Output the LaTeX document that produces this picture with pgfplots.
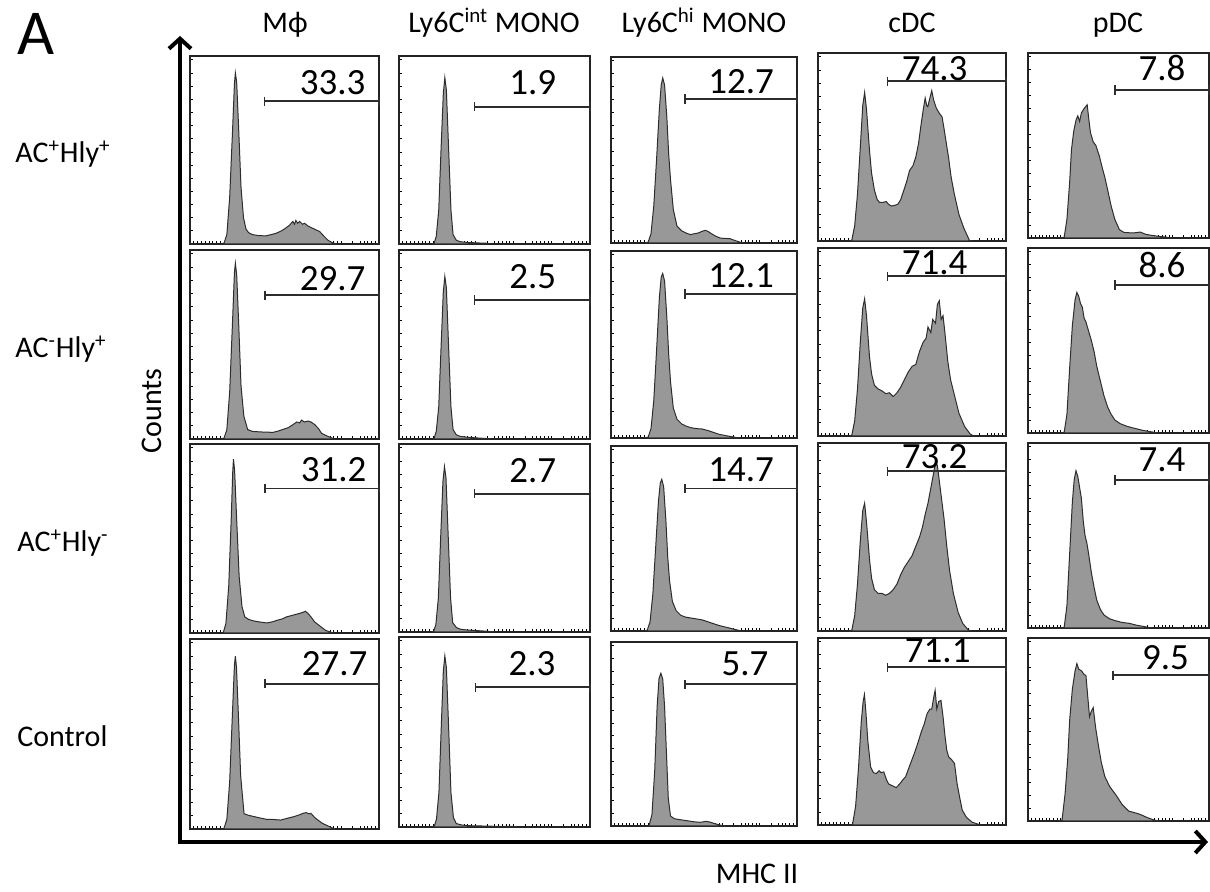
\documentclass[border=0pt]{standalone}
\usepackage{pgfplots}
\pgfplotsset{compat=1.18}
\usepackage{fontspec}
\setmainfont{Carlito}
\usetikzlibrary{arrows.meta}
\definecolor{histfill}{RGB}{152,152,152}
\definecolor{histline}{RGB}{45,45,45}
\definecolor{boxcol}{RGB}{35,35,35}
\definecolor{gatecol}{RGB}{45,45,45}
\pgfplotsset{
  panel/.style={scale only axis, anchor=south west,
    xmin=0, xmax=100, ymin=0, ymax=100, clip=false,
    axis line style={line width=0.75pt, boxcol},
    xtick={2,4,6,8,10,12,14,16,18,20,22,24,26,28,30,32,34,36,38,40,46,50,52,54,56,58,60,66,70,72,74,76,78,80,86,90,92,94,96,98},
    ytick={7,14,21,28,35,42,49,56,63,70,77,84,91,98},
    xticklabels={}, yticklabels={},
    xtick pos=left, ytick pos=left, tick align=inside,
    major tick length=1.3pt, tick style={line width=0.35pt, black}},
  hist/.style={fill=histfill, draw=histline, line width=0.5pt},
  gate/.style={draw=gatecol, line width=0.9pt, mark=|, mark size=2.3pt, mark options={line width=0.9pt, solid}},
}
\tikzset{numlab/.style={font=\fontsize{18.5}{20}\selectfont, inner sep=0pt}}
\newcommand{\panel}[9]{%
\begin{axis}[panel, at={(#1pt,#2pt)}, width=#3pt, height=#4pt]
\addplot[hist] coordinates {#5} \closedcycle;
\addplot[gate] coordinates {(#6,#7) (100,#7)};
\node[numlab] at (axis cs:#8) {#9};
\end{axis}}
\begin{document}
\begin{tikzpicture}[every node/.style={font=\fontsize{15}{18}\selectfont}]
\path[use as bounding box] (0pt,0pt) rectangle (605pt,446pt);
% Column 1: Mphi
\panel{95}{324}{94.5}{94}{(17,0)(18,0.5)(19.5,5)(21,25)(22.5,60)(23.5,85)(24,91)(24.7,86)(25.8,60)(27,30)(28.3,14)(29.6,8)(31,6)(33,5)(36,4.5)(40,4.3)(43,5)(45.6,5.7)(48,6.8)(50,8)(52.7,10)(54.4,12)(55.3,10.5)(56,12.5)(57,11)(58,12)(59.5,10.5)(60.6,11)(62.5,9.5)(65,8.3)(68.6,6.6)(71,4)(73,2)(75,0.8)(77.5,0)}{39.4}{76}{75.5,86}{33.3}
\panel{95}{226.5}{94.5}{94.5}{(17,0)(18,0.5)(19.5,5)(21,25)(22.5,62)(23.5,88)(24,93)(24.7,87)(25.8,60)(27,28)(28.5,12)(30.5,5)(33,4)(38,3.7)(44,3.5)(47,4.3)(49,5)(52,6)(54.5,7.6)(56.5,9)(58,8.5)(59,10)(60.5,9)(62.5,9.5)(64,9)(66,7.6)(68,5.5)(69.6,3)(72,1.8)(74,1)(76,0)}{39.6}{76}{75.5,85}{29.7}
\panel{95}{129.5}{94.5}{94.5}{(17,0)(17.7,0.5)(19,5)(20.5,25)(21.8,60)(22.6,85)(23,92)(23.6,86)(24.7,60)(26,30)(27.5,14)(29,8.5)(31,7.2)(33.6,6.4)(37,5.8)(40.7,5.3)(44,6)(46,6.7)(49,7.5)(51,8.5)(54,9.3)(56.6,10)(58.5,10.5)(60,11)(61,11.5)(62.3,10.5)(64,8.5)(66,5.8)(69,3.5)(71.7,1.4)(75.6,0)}{39.5}{76.5}{76,86.5}{31.2}
\panel{95}{31.5}{94.5}{95}{(17.5,0)(18,0.5)(19.5,5)(21,25)(22.5,62)(23.5,86)(24,91)(24.6,85)(25.6,60)(26.8,28)(28.6,8)(31,7.2)(34,6.5)(37,5.8)(41,5)(44,5)(48,4.7)(51,5.5)(55,6.5)(58,7.5)(60,8.3)(61.5,8.6)(63,8)(64,8.2)(66,6)(67.7,4.7)(70,3)(73,1.6)(76.5,0)}{39.8}{76.4}{76.5,87}{27.7}
% Column 2: Ly6C int
\panel{199.5}{324}{95.5}{94}{(17.5,0)(18.4,0.5)(19.5,4)(20.8,18)(22,50)(23.2,80)(24,88.5)(24.8,82)(26,50)(27.2,18)(28.3,5)(30,2)(32,1.2)(36,0.8)(40,0.6)(45.6,0.4)(48,0)}{39.5}{73}{70,86}{1.9}
\panel{199.5}{226.5}{95.5}{94.5}{(17.5,0)(18.4,0.5)(19.5,4)(20.8,17)(22,48)(23.2,78)(24,86)(24.8,80)(26,48)(27.2,17)(28.3,5)(30,2.2)(32,1.4)(36,0.9)(40,0.6)(45,0.3)(48,0)}{39.5}{73.5}{70,86}{2.5}
\panel{199.5}{130}{95.5}{94}{(17.3,0)(18.2,0.5)(19.3,4)(20.6,18)(21.8,50)(23,80)(23.8,88)(24.6,82)(25.8,50)(27,18)(28.1,5)(30,2.4)(32,1.5)(36,1)(40,0.8)(46,0.4)(50,0)}{39.5}{73.5}{70,86}{2.7}
\panel{199.5}{32.5}{95.5}{95}{(17.5,0)(18.5,0.5)(19.6,4)(20.9,18)(22.1,52)(23.2,82)(24,90)(24.8,84)(26,52)(27.2,18)(28.5,5)(30,1.8)(33,1)(38,0.6)(45,0.5)(52,0.3)(60,0.3)(62,0)}{40}{73.5}{69.6,86}{2.3}
% Column 3: Ly6C hi
\panel{305.5}{324.5}{93}{93}{(19,0)(20,0.5)(21.5,5)(23,20)(24.5,45)(26,72)(27,85)(27.8,88.7)(28.8,85)(30,68)(31,48)(32,34)(33.5,18)(35.5,9)(38,6.5)(40,5.5)(42.6,4.5)(45,5)(47,5.4)(49,6.3)(50.7,6.8)(52,6.3)(54,5)(56,3.8)(58.8,2.6)(61,2.5)(64,2.3)(67,1.2)(69.5,0.4)(72,0)}{39.6}{77.4}{70,87}{12.7}
\panel{305.5}{227}{93}{93.5}{(19,0)(20,0.5)(21.5,5)(23,20)(24.5,47)(26,75)(27,86)(27.8,88)(28.8,84)(30,65)(31,45)(32,30)(33.5,16)(35.5,10)(38,7.5)(40,6.5)(43,5.5)(46,5)(49,4.8)(52,4)(55,3)(58,2)(62,1.2)(66,0.5)(69,0)}{39.6}{77}{70,87}{12.1}
\panel{305.5}{130.5}{93}{92.5}{(18.5,0)(19.5,0.5)(21,5)(22.5,20)(24,45)(25.5,70)(26.5,80)(27.3,82)(28.3,78)(29.5,60)(30.5,40)(31.5,27)(33,16)(35,11)(37.5,8.5)(40,7.5)(43,7)(46,6.5)(49,6)(52,5)(55,4)(58,3)(62,2)(66,1)(70,0)}{39.6}{77}{70,87}{14.7}
\panel{305.5}{33}{93}{92}{(19.5,0)(20.5,0.5)(22,6)(23.5,30)(24.8,65)(25.8,80)(26.8,83)(27.8,80)(28.8,65)(29.8,40)(30.8,15)(32,5.4)(34,4)(36,3.6)(40,3)(44.5,2.3)(48,2)(51,2.5)(53,2.2)(56,1.2)(59,0.4)(61,0)}{39.7}{77}{72,88}{5.7}
% Column 4: cDC
\panel{409}{325.5}{94}{94}{(17,0)(18,0.5)(19.5,8)(21,25)(22.5,50)(23.8,72)(24.8,79)(25.8,70)(27.4,48)(28.5,36)(30,27)(31.5,22)(32.7,20.5)(34.5,20.5)(36.3,21)(37.5,19.5)(39,18.6)(41,19)(42.5,19.6)(44,22)(45,25)(47,31)(48.7,37.5)(50.5,40)(52,44.6)(53.5,52)(54.9,62.5)(56,70)(57,76)(57.8,72)(58.4,71.4)(59.5,76)(60.5,80)(61.5,75)(63,70.5)(64.5,68)(66,66)(67,60)(68,53.6)(69.5,44)(70.8,34)(72.5,25)(75,14)(77.5,7)(80.5,0.4)(82,0)}{37}{85}{62,91.5}{74.3}
\panel{409}{228}{94}{94}{(17,0)(18,0.5)(19.5,8)(21,25)(22.5,50)(23.8,68)(24.8,73)(25.8,64)(27.4,42)(28.5,33)(30,27)(32,25)(34,24)(36,22.5)(38,23)(40,21)(42,23)(44,26)(46,30)(48,34)(50,37)(52,38)(54,45)(56,50)(57.5,52)(58.5,58)(60,55)(61,62)(62.5,60)(63.5,70)(64.5,72)(65.5,62)(66.5,64)(67.5,55)(69,40)(70.5,30)(72.5,22)(75,12)(78,5)(81,1)(83,0)}{37}{85}{62,92}{71.4}
\panel{409}{130.5}{94}{94}{(17,0)(18,0.5)(19.5,8)(21,25)(22.5,48)(23.8,64)(24.8,68)(25.8,58)(27.4,38)(28.5,28)(30,22)(32,20)(34,20)(36,19)(38,20)(40,22)(42,25)(44,30)(46,34)(48,37)(50,40)(52,45)(54,50)(55.5,55)(57,62)(58.5,68)(60,76)(61.5,84)(62.5,90)(63.5,88)(64.5,80)(65.5,72)(67,60)(68.5,45)(70,32)(72,20)(74.5,10)(77,4)(80,0.5)(82,0)}{37}{85}{62,93}{73.2}
\panel{409}{33.5}{94}{93.5}{(17.5,0)(18.4,0.5)(20,10)(21.5,30)(23,55)(24,66)(24.7,69.8)(25.5,60)(26.5,45)(28,31)(29.5,28)(31,27.5)(32.5,29)(33.5,28)(35,28.4)(36.5,24)(37.5,22)(39.5,21)(41.6,20)(43.5,22)(45,24)(46.6,25.8)(48.5,31)(50,35)(51.5,39)(53,43.5)(55,50)(56.5,54)(58,59.5)(59.5,62)(60.5,62)(61.5,68)(62.3,72)(63.2,62)(64.2,66)(65.4,66.6)(66.5,58)(67.5,48)(68.5,40)(69.5,36.4)(71,35)(72.6,32.9)(74,22)(75.5,14)(76.7,8)(79,4)(82,1.5)(85,0.5)(86,0)}{37}{84.4}{63.7,93}{71.1}
% Column 5: pDC
\panel{514}{327}{90.5}{92.5}{(18.5,0)(20,0.5)(21.5,10)(23,30)(24,47.7)(25.3,58)(26.6,64)(27.5,66)(28.5,63)(29.5,67.6)(31,70)(32.7,72)(33.5,65)(34.5,57)(36,52)(37.5,50)(39.5,44)(41,38)(42.4,33)(44,26)(46,17)(48,10)(50.5,4.5)(53,3)(58,2.7)(62,3.2)(65,2)(69,1.3)(73,0.8)(76.6,0.4)(79,0)}{48}{80}{74,92}{7.8}
\panel{514}{229.5}{90.5}{92.5}{(18.5,0)(20,0.5)(21.5,10)(23,35)(24.5,58)(26,72)(27,76)(28,74)(29,70)(30,68)(31,62)(32,60)(33.5,55)(35,50)(36.5,44)(38,36)(40,28)(42,20)(44,14)(46,10)(48,7)(51,5)(55,3.5)(59,2.5)(63,1.5)(67,0.8)(72,0)}{48}{80}{74,91}{8.6}
\panel{514}{132}{90.5}{92.5}{(18.5,0)(20,0.5)(21.5,12)(23,40)(24.5,68)(25.5,80)(26.5,85)(27.5,82)(28.5,76)(29.5,70)(30.5,58)(31.5,50)(32.5,46)(33.5,40)(35,30)(36.5,22)(38,15)(40,10)(42,7)(45,5)(48,4)(52,3)(56,2.5)(60,1.5)(64,0.8)(68,0)}{48}{80}{74,91}{7.4}
\panel{514}{35.5}{90.5}{91.5}{(17.5,0)(18.8,0.5)(20.5,15)(22,35)(23,55)(24.5,72)(26,82)(27,86)(28,83)(29.6,82)(31,80)(32,79.6)(33,68)(34,57)(35,60)(36,62)(37.5,50)(39,40.7)(40.5,32)(42.4,24.4)(45,19)(49,13.6)(52,9)(55.6,5.4)(59,4.5)(62,3.6)(66,1.8)(69.7,0.5)(72,0)}{47}{79.6}{76,89}{9.5}
% Big axes arrows
\draw[line width=2pt, line join=miter, {Straight Barb[length=5pt,width=11pt,line width=2pt]}-{Straight Barb[length=5pt,width=11pt,line width=2pt]}] (90pt,428pt) -- (90pt,25pt) -- (604pt,25pt);
% Texts
\node[anchor=base west, inner sep=0pt, font=\fontsize{32}{34}\selectfont] at (8.5pt,418.5pt) {A};
\node[anchor=base, inner sep=0pt] at (142.5pt,429.5pt) {Mϕ};
\node[anchor=base, inner sep=0pt] at (247pt,429.5pt) {Ly6C\textsuperscript{int} MONO};
\node[anchor=base, inner sep=0pt] at (352pt,429.5pt) {Ly6C\textsuperscript{hi} MONO};
\node[anchor=base, inner sep=0pt] at (456pt,429.5pt) {cDC};
\node[anchor=base, inner sep=0pt] at (559pt,429.5pt) {pDC};
\node[anchor=base west, inner sep=0pt] at (7.5pt,364.5pt) {AC\textsuperscript{+}Hly\textsuperscript{+}};
\node[anchor=base west, inner sep=0pt] at (7.5pt,267pt) {AC\textsuperscript{-}Hly\textsuperscript{+}};
\node[anchor=base west, inner sep=0pt] at (8.5pt,170pt) {AC\textsuperscript{+}Hly\textsuperscript{-}};
\node[anchor=base west, inner sep=0pt] at (8.5pt,72.5pt) {Control};
\node[rotate=90, inner sep=0pt] at (76pt,240.5pt) {Counts};
\node[anchor=base, inner sep=0pt] at (378.5pt,4pt) {MHC II};
\end{tikzpicture}
\end{document}
